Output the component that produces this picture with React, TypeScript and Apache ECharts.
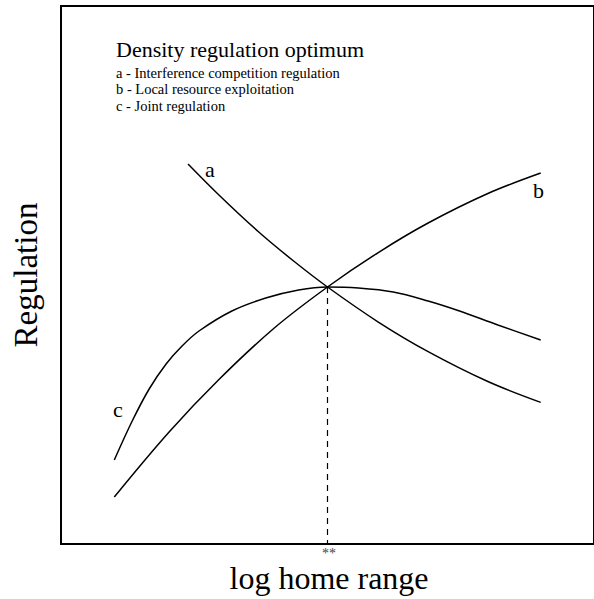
import React, { useEffect, useRef } from "react";
import * as echarts from "echarts";

const curveA: [number, number][] = [
  [2.383, 7.063], [2.963, 6.487], [3.71, 5.799], [4.364, 5.26], [5.0, 4.777],
  [5.953, 4.126], [6.888, 3.576], [8.009, 3.02], [9.0, 2.632],
];
const curveB: [number, number][] = [
  [1.0, 0.874], [2.028, 2.082], [2.963, 3.058], [3.991, 4.006], [5.0, 4.777],
  [5.953, 5.418], [6.888, 5.967], [8.009, 6.515], [9.0, 6.896],
];
const curveC: [number, number][] = [
  [1.0, 1.561], [1.336, 2.286], [1.654, 2.881], [1.972, 3.346], [2.271, 3.68],
  [2.589, 3.959], [3.206, 4.331], [3.841, 4.572], [4.458, 4.721], [5.0, 4.777],
  [5.579, 4.758], [6.234, 4.684], [6.888, 4.517], [7.449, 4.34], [8.196, 4.071],
  [9.0, 3.792],
];
const optimumLine: [number, number][] = [[5.0, 4.777], [5.0, 0]];

const titleText = "Density regulation optimum";
const legendLines = [
  "a - Interference competition regulation",
  "b - Local resource exploitation",
  "c - Joint regulation",
];
const xAxisName = "log home range";
const yAxisName = "Regulation";
const optimumMark = "**";

const SERIF = "'Liberation Serif', 'Times New Roman', serif";

export default function App() {
  const ref = useRef<HTMLDivElement>(null);
  useEffect(() => {
    if (!ref.current) return;
    const chart = echarts.init(ref.current, null, { renderer: "svg" });
    const lineStyle = { color: "#000", width: 1.5 };
    chart.setOption({
      animation: false,
      backgroundColor: "#fff",
      grid: {
        show: true,
        left: 61,
        top: 6,
        width: 535,
        height: 538,
        borderColor: "#000",
        borderWidth: 2,
        backgroundColor: "transparent",
      },
      xAxis: {
        type: "value",
        min: 0,
        max: 10,
        axisLine: { show: false },
        axisTick: { show: false },
        axisLabel: { show: false },
        splitLine: { show: false },
      },
      yAxis: {
        type: "value",
        min: 0,
        max: 10,
        axisLine: { show: false },
        axisTick: { show: false },
        axisLabel: { show: false },
        splitLine: { show: false },
      },
      series: [
        { type: "line", data: curveA, smooth: 0.35, symbol: "none", lineStyle },
        { type: "line", data: curveB, smooth: 0.35, symbol: "none", lineStyle },
        { type: "line", data: curveC, smooth: 0.35, symbol: "none", lineStyle },
        {
          type: "line",
          data: optimumLine,
          symbol: "none",
          lineStyle: { color: "#000", width: 1.2, type: [6, 5] },
        },
      ],
      graphic: [
        {
          type: "text",
          left: 116,
          top: 38,
          style: { text: titleText, fontFamily: SERIF, fontSize: 22, fill: "#000" },
        },
        ...legendLines.map((t, i) => ({
          type: "text",
          left: 116,
          top: 65 + i * 16.5,
          style: { text: t, fontFamily: SERIF, fontSize: 14.5, fill: "#000" },
        })),
        {
          type: "text",
          left: 205,
          top: 158,
          style: { text: "a", fontFamily: SERIF, fontSize: 22, fill: "#000" },
        },
        {
          type: "text",
          left: 533,
          top: 179,
          style: { text: "b", fontFamily: SERIF, fontSize: 22, fill: "#000" },
        },
        {
          type: "text",
          left: 113,
          top: 398,
          style: { text: "c", fontFamily: SERIF, fontSize: 22, fill: "#000" },
        },
        {
          type: "text",
          x: 329,
          y: 553,
          style: {
            text: optimumMark,
            fontFamily: SERIF,
            fontSize: 14,
            fill: "#444",
            align: "center",
            verticalAlign: "middle",
          },
        },
        {
          type: "text",
          x: 329,
          y: 578,
          style: {
            text: xAxisName,
            fontFamily: SERIF,
            fontSize: 32,
            fill: "#000",
            align: "center",
            verticalAlign: "middle",
          },
        },
        {
          type: "text",
          x: 26,
          y: 275,
          rotation: Math.PI / 2,
          style: {
            text: yAxisName,
            fontFamily: SERIF,
            fontSize: 33,
            fill: "#000",
            align: "center",
            verticalAlign: "middle",
          },
        },
      ],
    });
    return () => chart.dispose();
  }, []);
  return (
    <div
      ref={ref}
      style={{ position: "fixed", left: 0, top: 0, width: 594, height: 599 }}
    />
  );
}
